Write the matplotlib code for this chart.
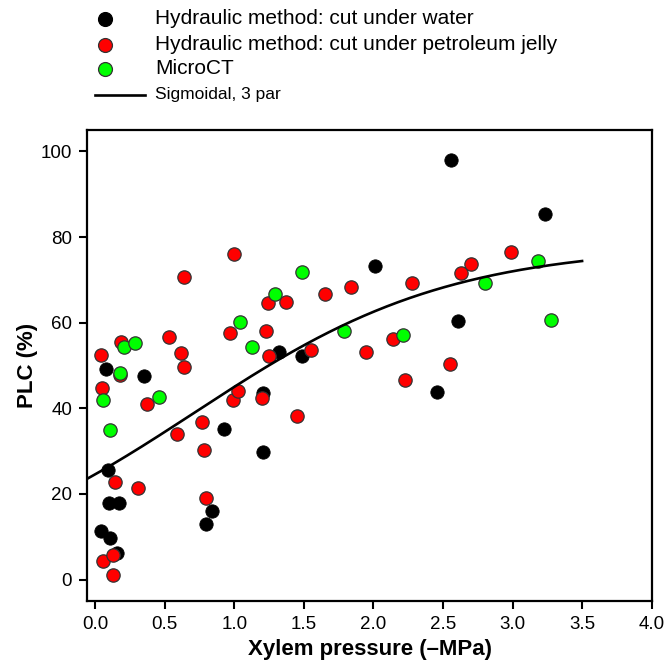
import numpy as np
import matplotlib
matplotlib.use("Agg")
import matplotlib.pyplot as plt
from matplotlib.lines import Line2D

plt.rcParams['font.family'] = ['Liberation Sans', 'DejaVu Sans']

# Hydraulic method: cut under water (black)
water_x = [0.04, 0.08, 0.09, 0.10, 0.11, 0.155, 0.17, 0.35, 0.80, 0.84, 0.93, 1.21, 1.21, 1.32,
           1.49, 2.01, 2.46, 2.56, 2.61, 3.23]
water_y = [11.3, 49.1, 25.5, 17.9, 9.7, 6.2, 18.0, 47.5, 13.0, 15.9, 35.2, 29.7, 43.5, 53.1,
           52.1, 73.2, 43.8, 97.9, 60.5, 85.3]

# Hydraulic method: cut under petroleum jelly (red)
jelly_x = [0.04, 0.05, 0.055, 0.13, 0.13, 0.14, 0.18, 0.19, 0.31, 0.37, 0.53, 0.59, 0.62, 0.64,
           0.64, 0.77, 0.78, 0.80, 0.97, 0.99, 1.00, 1.03, 1.20, 1.23, 1.24, 1.25, 1.37, 1.45,
           1.55, 1.65, 1.84, 1.95, 2.14, 2.23, 2.28, 2.55, 2.63, 2.70, 2.99]
jelly_y = [52.4, 44.8, 4.3, 5.8, 1.1, 22.8, 47.8, 55.4, 21.4, 41.0, 56.7, 34.0, 52.9, 49.7,
           70.6, 36.7, 30.3, 19.1, 57.7, 42.0, 76.0, 44.1, 42.5, 58.1, 64.7, 52.1, 64.8, 38.2,
           53.7, 66.7, 68.4, 53.1, 56.2, 46.5, 69.3, 50.4, 71.6, 73.7, 76.5]

# MicroCT (green)
ct_x = [0.055, 0.11, 0.18, 0.21, 0.29, 0.46, 1.04, 1.13, 1.29, 1.49, 1.79, 2.21, 2.80, 3.18, 3.28]
ct_y = [42.0, 35.0, 48.3, 54.4, 55.2, 42.6, 60.1, 54.4, 66.6, 71.9, 58.1, 57.1, 69.2, 74.3, 60.6]

# Sigmoidal, 3 parameters: y = a / (1 + exp(-(x - x0) / b))
sig_a = 78.0
sig_b = 0.92
sig_x0 = 0.715
sig_range = (-0.055, 3.5)

x_ticks = [0.0, 0.5, 1.0, 1.5, 2.0, 2.5, 3.0, 3.5, 4.0]
y_ticks = [0, 20, 40, 60, 80, 100]

fig = plt.figure(figsize=(6.67, 6.70), dpi=100)
ax = fig.add_axes([0.131, 0.103, 0.846, 0.703])

ms = 92
ax.scatter(water_x, water_y, s=ms, c='black', edgecolors='black', linewidths=0.6, zorder=3)
ax.scatter(jelly_x, jelly_y, s=ms, c='#ff0000', edgecolors='#333333', linewidths=0.9, zorder=4)
ax.scatter(ct_x, ct_y, s=ms, c='#00ff00', edgecolors='#333333', linewidths=0.9, zorder=5)

xs = np.linspace(sig_range[0], sig_range[1], 300)
ys = sig_a / (1 + np.exp(-(xs - sig_x0) / sig_b))
ax.plot(xs, ys, color='black', lw=1.9, zorder=6)

ax.set_xlim(-0.055, 4.0)
ax.set_ylim(-5, 105)
ax.set_xticks(x_ticks)
ax.set_xticklabels([f"{t:.1f}" for t in x_ticks])
ax.set_yticks(y_ticks)
ax.tick_params(direction='out', length=6, width=1.5, labelsize=13.5, pad=5)
for s in ax.spines.values():
    s.set_linewidth(1.6)

ax.set_xlabel('Xylem pressure (\u2013MPa)', fontsize=16, fontweight='bold', labelpad=4)
ax.set_ylabel('PLC (%)', fontsize=16, fontweight='bold', labelpad=2)

# Legend (figure-level, manual layout)
W, H = 667, 670
rows = [
    (19, 'black', 'black', 'Hydraulic method: cut under water'),
    (45, '#ff0000', '#333333', 'Hydraulic method: cut under petroleum jelly'),
    (69, '#00ff00', '#333333', 'MicroCT'),
]
for y, fc, ec, label in rows:
    fig.add_artist(Line2D([105 / W], [1 - y / H], marker='o', markersize=10,
                          markerfacecolor=fc, markeredgecolor=ec, markeredgewidth=0.9,
                          linestyle='none', transform=fig.transFigure))
    fig.text(155 / W, 1 - y / H, label, fontsize=15, va='center', ha='left')
fig.add_artist(Line2D([95 / W, 145 / W], [1 - 95 / H, 1 - 95 / H], color='black', lw=1.9,
                      transform=fig.transFigure))
fig.text(155 / W, 1 - 95 / H, 'Sigmoidal, 3 par', fontsize=12.5, va='center', ha='left')

fig.savefig('out.png', dpi=100)
